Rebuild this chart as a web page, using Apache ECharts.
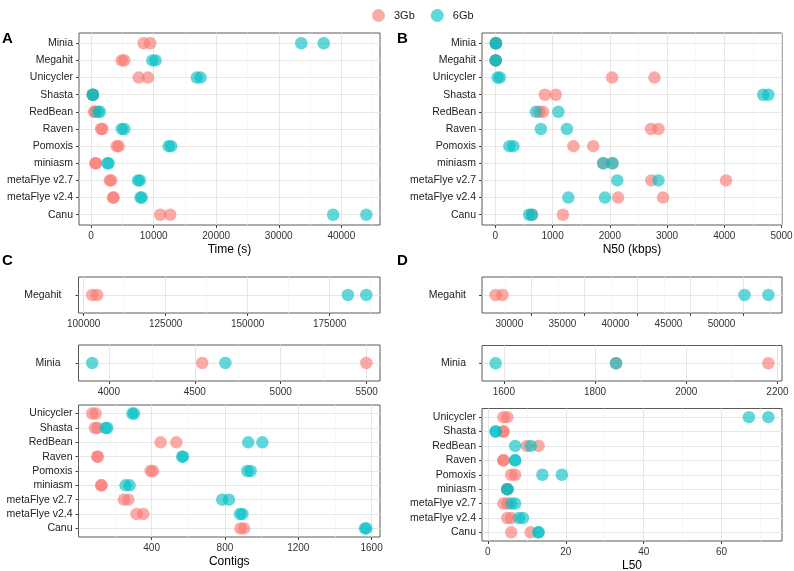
<!DOCTYPE html>
<html><head><meta charset="utf-8">
<script src="https://cdn.jsdelivr.net/npm/echarts@6/dist/echarts.min.js"></script>
<style>html,body{margin:0;padding:0;background:#fff}#c{width:794px;height:571px}</style>
</head><body><div id="c"></div>
<script>
// ---------- data ----------
const assemblersAB = ['Minia','Megahit','Unicycler','Shasta','RedBean','Raven','Pomoxis','miniasm','metaFlye v2.7','metaFlye v2.4','Canu'];
const time3Gb = [[8400,9450],[4900,5300],[7600,9100],[250,300],[500,600],[1600,1800],[4100,4400],[700,750],[3000,3200],[3500,3600],[11050,12650]];
const time6Gb = [[33600,37200],[9800,10300],[16900,17500],[250,300],[1100,1400],[4900,5300],[12400,12800],[2600,2800],[7500,7800],[7900,8100],[38700,44000]];
const n50_3Gb = [[8,10],[5,7],[2040,2780],[865,1055],[770,830],[2720,2850],[1365,1710],[1880,2040],[2725,4030],[2145,2930],[640,1180]];
const n50_6Gb = [[8,10],[5,7],[40,80],[4680,4770],[710,1100],[795,1250],[245,315],[1890,2050],[2130,2850],[1275,1915],[590,640]];

const assemblersCD = ['Unicycler','Shasta','RedBean','Raven','Pomoxis','miniasm','metaFlye v2.7','metaFlye v2.4','Canu'];
const contigs3Gb = [[76,95],[91,104],[449,535],[104,106],[395,407],[125,127],[249,273],[318,355],[885,904]];
const contigs6Gb = [[295,304],[149,158],[927,1004],[567,571],[922,940],[258,280],[785,822],[882,895],[1564,1571]];
const megahitContigs3Gb = [102600,104100];
const megahitContigs6Gb = [180600,186200];
const miniaContigs3Gb = [4543,5498];
const miniaContigs6Gb = [3903,4678];
const l50_3Gb = [[4,5],[4,4],[10,13],[4,4],[6,7],[5,5],[4,5],[5,6],[6,11]];
const l50_6Gb = [[67,72],[2,2],[7,11],[7,7],[14,19],[5,5],[6,7],[8,9],[13,13]];
const megahitL50_3Gb = [26640,27290];
const megahitL50_6Gb = [50090,52340];
const miniaL50_3Gb = [1846,2180];
const miniaL50_6Gb = [1582,1846];

// tick labels
const timeTicks = [0,10000,20000,30000,40000];
const n50Ticks = [0,1000,2000,3000,4000,5000];
const contigTicks = [400,800,1200,1600];
const megahitContigTicks = [100000,125000,150000,175000];
const miniaContigTicks = [4000,4500,5000,5500];
const l50Ticks = [0,20,40,60];
const megahitL50Ticks = [30000,35000,40000,45000,50000];
const miniaL50Ticks = [1600,1800,2000,2200];

const seriesNames = ['3Gb','6Gb'];
const colors = ['#F8766D','#00BFC4'];
const FONT = 'Liberation Sans, Arial, sans-serif';

// ---------- layout ----------
const panels = [
  {grid:{left:79,top:33,width:301,height:192}, cats:assemblersAB, s3:time3Gb, s6:time6Gb, ticks:timeTicks, title:'Time (s)', yMargin:6},
  {grid:{left:482,top:33,width:300,height:192}, cats:assemblersAB, s3:n50_3Gb, s6:n50_6Gb, ticks:n50Ticks, title:'N50 (kbps)', yMargin:6},
  {grid:{left:78.5,top:277,width:301.5,height:36}, cats:['Megahit'], s3:[megahitContigs3Gb], s6:[megahitContigs6Gb], ticks:megahitContigTicks, yMargin:17},
  {grid:{left:78.5,top:345,width:301.5,height:36}, cats:['Minia'], s3:[miniaContigs3Gb], s6:[miniaContigs6Gb], ticks:miniaContigTicks, yMargin:18},
  {grid:{left:78.5,top:405,width:301.5,height:132}, cats:assemblersCD, s3:contigs3Gb, s6:contigs6Gb, ticks:contigTicks, title:'Contigs', yMargin:6},
  {grid:{left:482,top:277,width:300,height:36}, cats:['Megahit'], s3:[megahitL50_3Gb], s6:[megahitL50_6Gb], ticks:megahitL50Ticks, yMargin:16, labelShift:22},
  {grid:{left:482,top:345.5,width:300,height:35.5}, cats:['Minia'], s3:[miniaL50_3Gb], s6:[miniaL50_6Gb], ticks:miniaL50Ticks, yMargin:16},
  {grid:{left:482,top:408.5,width:300,height:132.5}, cats:assemblersCD, s3:l50_3Gb, s6:l50_6Gb, ticks:l50Ticks, title:'L50', yMargin:6}
];

function domain(a, b){
  const all = a.flat().concat(b.flat());
  const lo = Math.min(...all), hi = Math.max(...all);
  const pad = (hi - lo) * 0.05;
  return [lo - pad, hi + pad];
}
function minorTicks(t, lo, hi){
  const step = t[1] - t[0], out = [];
  for (let v = t[0] - step/2; v <= t[t.length-1] + step; v += step) if (v > lo && v < hi) out.push(v);
  return out;
}
function pts(vals){
  const out = [];
  vals.forEach((pair, i) => pair.forEach(v => out.push([v, i])));
  return out;
}

const grids = [], xAxes = [], yAxes = [], series = [];
panels.forEach((p, k) => {
  const [lo, hi] = domain(p.s3, p.s6);
  grids.push(Object.assign({show:true, borderColor:'#5a5a5a', borderWidth:1, backgroundColor:'#fff', outerBoundsMode:'none'}, p.grid));
  const shift = p.labelShift || 0;
  xAxes.push({
    type:'value', gridIndex:k, min:lo, max:hi, position:'bottom',
    axisLine:{show:false, onZero:false},
    axisTick:{show:true, customValues:p.ticks, length:3, lineStyle:{color:'#444'}},
    axisLabel:{customValues:p.ticks, formatter:(v) => String(Math.round(v)), color:'#333', fontSize:10, margin:6, fontFamily:FONT,
      padding: shift ? [0, shift*2, 0, 0] : 0},
    splitLine:{show:true, lineStyle:{color:'#e6e6e6', width:1}},
    name: p.title || '', nameLocation:'middle', nameGap:19,
    nameTextStyle:{fontSize:12, color:'#000', fontFamily:FONT}
  });
  const minor = minorTicks(p.ticks, lo, hi);
  xAxes.push({
    type:'value', gridIndex:k, min:lo, max:hi, position:'bottom',
    axisLine:{show:false, onZero:false},
    axisTick:{show:false, customValues:minor},
    axisLabel:{show:false, customValues:minor},
    splitLine:{show:true, lineStyle:{color:'#f2f2f2', width:0.7}}
  });
  const idx = p.cats.map((c, i) => i);
  yAxes.push({
    type:'value', gridIndex:k, inverse:true, min:-0.6, max:p.cats.length - 1 + 0.6, position:'left',
    axisLine:{show:false, onZero:false},
    axisTick:{show:true, customValues:idx, length:3, lineStyle:{color:'#444'}},
    axisLabel:{customValues:idx, formatter:(v) => p.cats[Math.round(v)], color:'#222', fontSize:10.5, margin:p.yMargin, fontFamily:FONT},
    splitLine:{show:true, lineStyle:{color:'#e6e6e6', width:1}}
  });
  [p.s3, p.s6].forEach((vals, j) => {
    series.push({
      type:'scatter', name:seriesNames[j], xAxisIndex:2*k, yAxisIndex:k,
      data:pts(vals), symbol:'circle', symbolSize:12.5,
      itemStyle:{color:colors[j], opacity:0.62},
      emphasis:{disabled:true}
    });
  });
});

const letters = [['A',2,31.5],['B',397,31.5],['C',2,253],['D',397,253]].map(([t,x,y]) => ({
  type:'text', x:x, y:y, style:{text:t, font:'bold 15px ' + FONT, fill:'#000', verticalAlign:'top'}
}));

const chart = echarts.init(document.getElementById('c'), null, {renderer:'canvas'});
chart.setOption({
  animation:false,
  backgroundColor:'#fff',
  textStyle:{fontFamily:FONT},
  legend:{data:seriesNames, top:4, left:367, icon:'circle', itemWidth:13, itemHeight:13, itemGap:16,
    textStyle:{fontSize:11, color:'#1a1a1a', padding:[0,0,0,4], fontFamily:FONT}},
  grid:grids, xAxis:xAxes, yAxis:yAxes, series:series,
  graphic:letters
});
</script></body></html>
